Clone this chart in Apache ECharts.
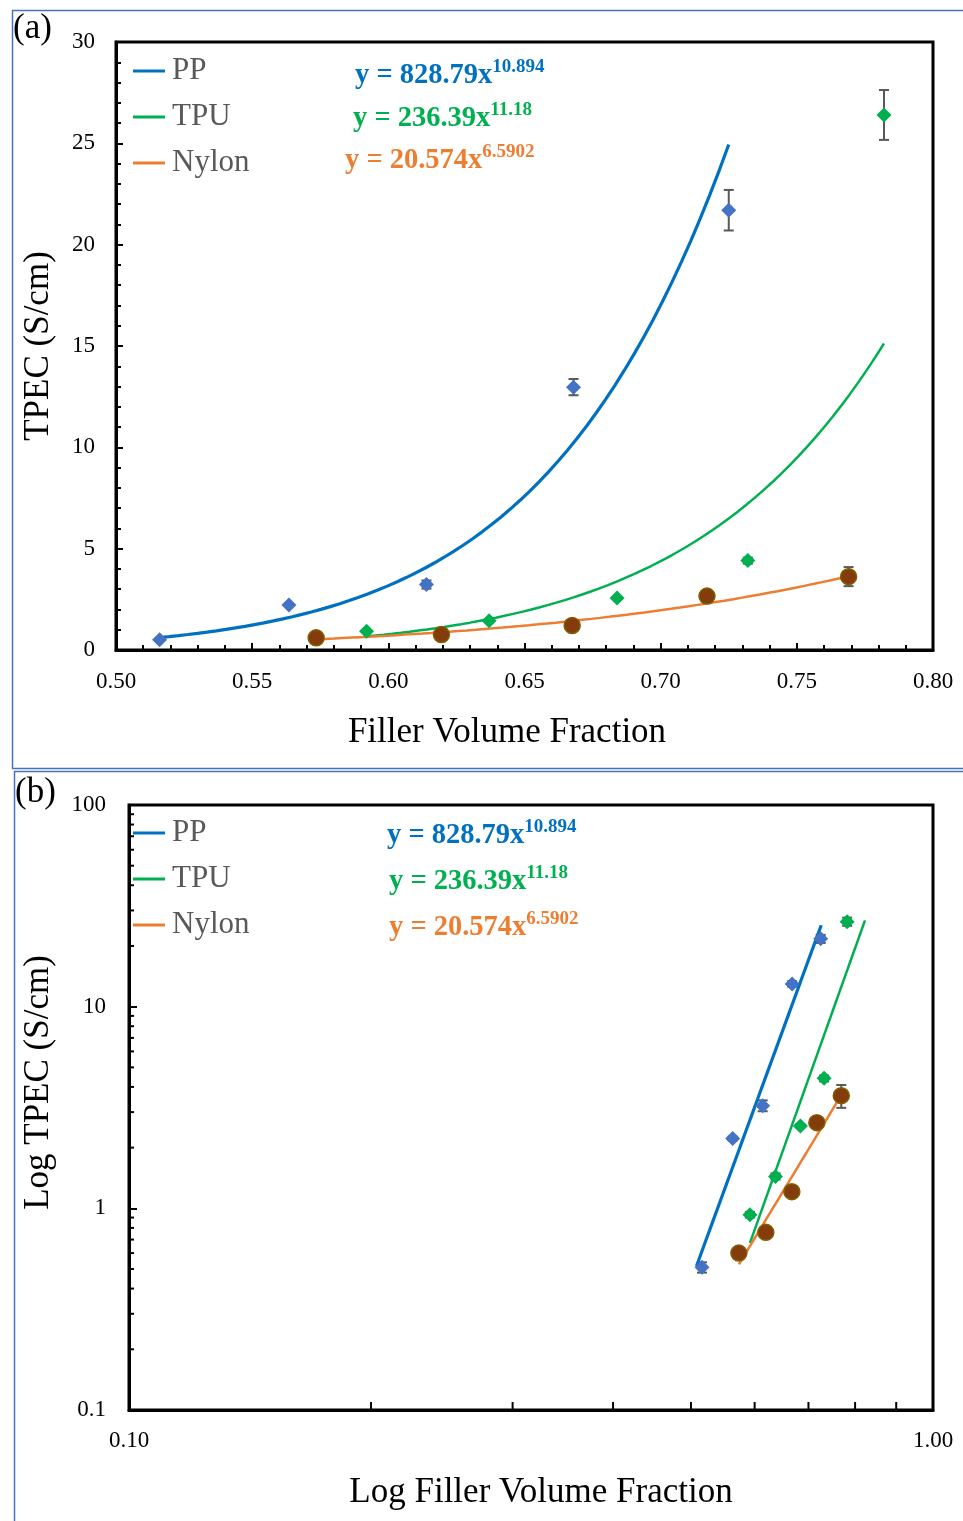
<!DOCTYPE html>
<html><head><meta charset="utf-8">
<script src="https://cdn.jsdelivr.net/npm/echarts@6/dist/echarts.min.js"></script>
<style>html,body{margin:0;padding:0;background:#fff}#c{width:963px;height:1521px}</style>
</head><body><div id="c"></div>
<script>
// ---- data ----
const seriesNames = ['PP', 'TPU', 'Nylon'];
const ppX = [0.516, 0.5635, 0.614, 0.668, 0.725];
const ppY = [0.51, 2.22, 3.23, 12.97, 21.7];
const ppErr = [0.03, 0.05, 0.2, 0.4, 1.0];
const tpuX = [0.592, 0.637, 0.684, 0.732, 0.782];
const tpuY = [0.93, 1.44, 2.56, 4.41, 26.4];
const tpuErr = [0.03, 0.05, 0.05, 0.15, 1.23];
const nyX = [0.5735, 0.6195, 0.6675, 0.717, 0.769];
const nyY = [0.60, 0.76, 1.21, 2.66, 3.62];
const nyErr = [0.02, 0.03, 0.05, 0.08, 0.47];
// power-law fit y = a * x^b (shown equations) and the x span of each fit line
const fitA = [828.79, 236.39, 20.574];
const fitB = [10.894, 11.18, 6.5902];
const fitStart = [0.516, 0.592, 0.5735];   // panel (a)
const fitEnd = [0.725, 0.782, 0.769];
const fitStartLog = [0.508, 0.592, 0.5735]; // panel (b)
const fitEndLog = [0.726, 0.823, 0.769];
const eqText = ['y = 828.79x', 'y = 236.39x', 'y = 20.574x'];
const eqExp = ['10.894', '11.18', '6.5902'];
// tick values
const linXTicks = [0.50, 0.55, 0.60, 0.65, 0.70, 0.75, 0.80];
const linYTicks = [0, 5, 10, 15, 20, 25, 30];
const logXMinor = [0.2, 0.3, 0.4, 0.5, 0.6, 0.7, 0.8, 0.9];
const logYMinor = [0.2,0.3,0.4,0.5,0.6,0.7,0.8,0.9, 2,3,4,5,6,7,8,9, 20,30,40,50,60,70,80,90];

const lineColors = ['#0070C0', '#00B050', '#ED7D31'];
const ptColors = ['#4472C4', '#00B050', '#843C0C'];
const serif = '"Liberation Serif", "Times New Roman", serif';

function fitCurve(k, s, e) {
  const out = [];
  const n = 60;
  for (let i = 0; i <= n; i++) {
    const x = s[k] + (e[k] - s[k]) * i / n;
    out.push([x, fitA[k] * Math.pow(x, fitB[k])]);
  }
  return out;
}
const pts = [
  ppX.map((x, i) => [x, ppY[i], ppErr[i]]),
  tpuX.map((x, i) => [x, tpuY[i], tpuErr[i]]),
  nyX.map((x, i) => [x, nyY[i], nyErr[i]])
];

function errRender(params, api) {
  const x = api.value(0), y = api.value(1), e = api.value(2);
  const p1 = api.coord([x, y + e]);
  const p2 = api.coord([x, y - e]);
  const st = { stroke: '#595959', lineWidth: 2 };
  return { type: 'group', children: [
    { type: 'line', shape: { x1: p1[0], y1: p1[1], x2: p2[0], y2: p2[1] }, style: st },
    { type: 'line', shape: { x1: p1[0] - 5, y1: p1[1], x2: p1[0] + 5, y2: p1[1] }, style: st },
    { type: 'line', shape: { x1: p2[0] - 5, y1: p2[1], x2: p2[0] + 5, y2: p2[1] }, style: st }
  ]};
}

const series = [];
[0, 1].forEach(g => {
  for (let k = 0; k < 3; k++) {
    series.push({
      type: 'custom', name: seriesNames[k] + ' err', xAxisIndex: g, yAxisIndex: g,
      renderItem: errRender, data: pts[k], z: 2, silent: true
    });
  }
  for (let k = 0; k < 3; k++) {
    series.push({
      type: 'line', name: seriesNames[k], xAxisIndex: g, yAxisIndex: g,
      data: g === 0 ? fitCurve(k, fitStart, fitEnd) : fitCurve(k, fitStartLog, fitEndLog),
      showSymbol: false, smooth: false, z: 3,
      lineStyle: { color: lineColors[k], width: k === 0 ? 3.2 : 2.5 },
      itemStyle: { color: lineColors[k] }
    });
  }
  for (let k = 0; k < 3; k++) {
    series.push({
      type: 'scatter', name: seriesNames[k] + ' data', xAxisIndex: g, yAxisIndex: g,
      data: pts[k].map(p => [p[0], p[1]]), z: 4,
      symbol: k === 2 ? 'circle' : 'diamond',
      symbolSize: k === 2 ? 16 : 15,
      itemStyle: k === 2 ? { color: ptColors[k], borderColor: '#7F6000', borderWidth: 1.5, opacity: 1 }
                         : { color: ptColors[k], opacity: 1 }
    });
  }
});
// minor ticks on the log panel, placed through the log scales
series.push({
  type: 'custom', name: 'xminor', xAxisIndex: 1, yAxisIndex: 1, silent: true, z: 5,
  data: logXMinor.map(v => [v]),
  renderItem: (params, api) => {
    const p = api.coord([api.value(0), 0.1]);
    return { type: 'line', shape: { x1: p[0], y1: p[1], x2: p[0], y2: p[1] - 8 }, style: { stroke: '#000', lineWidth: 2 } };
  }
});
series.push({
  type: 'custom', name: 'yminor', xAxisIndex: 1, yAxisIndex: 1, silent: true, z: 5,
  data: logYMinor.map(v => [0.1, v]),
  renderItem: (params, api) => {
    const p = api.coord([0.1, api.value(1)]);
    return { type: 'line', shape: { x1: p[0], y1: p[1], x2: p[0] + 5, y2: p[1] }, style: { stroke: '#000', lineWidth: 2 } };
  }
});

const axisCommon = {
  axisLine: { show: true, lineStyle: { color: '#000', width: 3 } },
  axisTick: { show: true, inside: true, length: 7, lineStyle: { color: '#000', width: 2 } },
  splitLine: { show: false },
  axisLabel: { color: '#000', fontFamily: serif, fontSize: 23 },
  nameTextStyle: { color: '#000', fontFamily: serif, fontSize: 35 },
  nameLocation: 'middle'
};

function legendFor(top) {
  return {
    data: seriesNames, orient: 'vertical', left: 128, top: top, icon: 'rect',
    itemWidth: 32, itemHeight: 3, itemGap: 12, selectedMode: false,
    textStyle: { color: '#595959', fontFamily: serif, fontSize: 31, lineHeight: 34, padding: [0, 0, 0, 2] }
  };
}

const eqGraphics = [];
const eqPos = [[[355, 58], [353, 101], [345, 143]], [[387, 818], [389, 864], [389, 910]]];
eqPos.forEach(panel => panel.forEach((pos, k) => {
  eqGraphics.push({
    type: 'text', left: pos[0], top: pos[1], z: 10,
    style: {
      text: '{m|' + eqText[k] + '}{s|' + eqExp[k] + '}',
      rich: {
        m: { fontFamily: serif, fontSize: 28.5, fontWeight: 'bold', fill: lineColors[k], lineHeight: 32, verticalAlign: 'bottom' },
        s: { fontFamily: serif, fontSize: 19, fontWeight: 'bold', fill: lineColors[k], lineHeight: 32, verticalAlign: 'top' }
      }
    }
  });
}));

const option = {
  backgroundColor: '#fff',
  animation: false,
  grid: [
    { left: 116, top: 42, right: 30, bottom: 871, show: true, borderColor: '#000', borderWidth: 3, containLabel: false, outerBoundsMode: 'none' },
    { left: 129, top: 805, right: 30, bottom: 111, show: true, borderColor: '#000', borderWidth: 3, containLabel: false, outerBoundsMode: 'none' }
  ],
  legend: [legendFor(49), legendFor(811)],
  xAxis: [
    Object.assign({}, axisCommon, {
      type: 'value', gridIndex: 0, min: 0.5, max: 0.8, interval: 0.05,
      name: 'Filler Volume Fraction', nameGap: 65,
      nameTextStyle: Object.assign({}, axisCommon.nameTextStyle, { padding: [0, 35, 0, 0] }),
      minorTick: { show: true, splitNumber: 5, length: 5, lineStyle: { color: '#000', width: 2 } },
      axisLabel: Object.assign({}, axisCommon.axisLabel, { margin: 20, formatter: v => v.toFixed(2) })
    }),
    Object.assign({}, axisCommon, {
      type: 'log', logBase: 10, gridIndex: 1, min: 0.1, max: 1,
      name: 'Log Filler Volume Fraction', nameGap: 65,
      nameTextStyle: Object.assign({}, axisCommon.nameTextStyle, { padding: [0, 0, 0, 20] }),
      axisTick: { show: false },
      axisLabel: Object.assign({}, axisCommon.axisLabel, { margin: 19, formatter: v => Number(v).toFixed(2) })
    })
  ],
  yAxis: [
    Object.assign({}, axisCommon, {
      type: 'value', gridIndex: 0, min: 0, max: 30, interval: 5,
      name: 'TPEC (S/cm)', nameGap: 60,
      minorTick: { show: true, splitNumber: 5, length: 5, lineStyle: { color: '#000', width: 2 } },
      axisLabel: Object.assign({}, axisCommon.axisLabel, { margin: 21 })
    }),
    Object.assign({}, axisCommon, {
      type: 'log', logBase: 10, gridIndex: 1, min: 0.1, max: 100,
      name: 'Log TPEC (S/cm)', nameGap: 73,
      nameTextStyle: Object.assign({}, axisCommon.nameTextStyle, { padding: [0, 0, 0, 50] }),
      axisTick: { show: true, inside: true, length: 8, lineStyle: { color: '#000', width: 2 } },
      axisLabel: Object.assign({}, axisCommon.axisLabel, { margin: 23, formatter: v => String(Number(v)) })
    })
  ],
  graphic: [
    { type: 'rect', left: 10, top: 8, z: -1, shape: { width: 960, height: 758 }, style: { fill: 'none', stroke: '#4472C4', lineWidth: 1.5 } },
    { type: 'rect', left: 12, top: 769, z: -1, shape: { width: 960, height: 760 }, style: { fill: 'none', stroke: '#4472C4', lineWidth: 1.5 } },
    { type: 'text', left: 13, top: 11, style: { text: '(a)', fontFamily: serif, fontSize: 35, fill: '#000' } },
    { type: 'text', left: 15, top: 775, style: { text: '(b)', fontFamily: serif, fontSize: 35, fill: '#000' } }
  ].concat(eqGraphics),
  series: series
};
const chart = echarts.init(document.getElementById('c'), null, { renderer: 'canvas' });
chart.setOption(option);
</script></body></html>
